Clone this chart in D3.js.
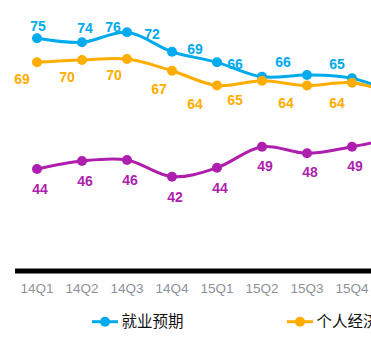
<!DOCTYPE html>
<html>
<head>
<meta charset="utf-8">
<script src="https://cdn.jsdelivr.net/npm/d3@7"></script>
<style>
  html, body { margin: 0; padding: 0; background: #fff; }
  svg { display: block; }
</style>
</head>
<body>
<svg id="chart" width="371" height="339"></svg>
<script>
// ---- data ----
const categories = ["14Q1", "14Q2", "14Q3", "14Q4", "15Q1", "15Q2", "15Q3", "15Q4", "16Q1"];
const visibleCount = 8; // the reference is cropped after 15Q4
const seriesNames = ["就业预期", "个人经济状况", "消费意愿"];
const jobValues = [74.67, 73.73, 76.09, 71.52, 69.02, 65.63, 66.03, 65.26, 61.5];
const financeValues = [69.02, 69.55, 69.80, 67.05, 63.55, 64.69, 63.55, 64.22, 61.3];
const spendingValues = [43.90, 45.78, 46.02, 42.09, 44.21, 49.15, 47.60, 49.15, 51.4];
const yDomain = [20, 80];

// label nudges (presentation only)
const jobLabelDx = [1, 3, -14, -20, -22, -27, -24, -15, 0];
const jobLabelDy = [-12, -14, -5, -18, -13, -13, -13, -14, 0];
const finLabelDx = [-15, -15, -13, -13, -22, -27, -21, -15, 0];
const finLabelDy = [17, 17, 16, 18.5, 18, 19, 17.5, 20.5, 0];
const spdLabelDx = [3, 3, 3, 3, 3, 3, 3, 3, 0];
const spdLabelDy = [20, 20, 20, 20, 20, 19, 19, 19, 0];

const colors = ["#00aaec", "#ffad00", "#ae1fae"];

const series = [
  { name: seriesNames[0], values: jobValues, color: colors[0], dx: jobLabelDx, dy: jobLabelDy },
  { name: seriesNames[1], values: financeValues, color: colors[1], dx: finLabelDx, dy: finLabelDy },
  { name: seriesNames[2], values: spendingValues, color: colors[2], dx: spdLabelDx, dy: spdLabelDy }
];

const svg = d3.select("#chart");

const x = d3.scaleBand()
  .domain(categories)
  .range([14.5, 14.5 + 45 * categories.length]);
const y = d3.scaleLinear().domain(yDomain).range([270.5, 15.7]);
const cx = c => x(c) + x.bandwidth() / 2;

// axis
const axis = d3.axisBottom(x)
  .tickValues(categories.slice(0, visibleCount))
  .tickSize(0).tickSizeOuter(0).tickPadding(12.5);
const gAxis = svg.append("g").attr("transform", "translate(0,270.5)").call(axis);
gAxis.select(".domain").attr("stroke", "#000").attr("stroke-width", 5);
gAxis.selectAll("text")
  .attr("fill", "#8d919a")
  .style("font-family", "'Liberation Sans', Arial, sans-serif")
  .style("font-size", "13.5px");

const line = d3.line()
  .x((d, i) => cx(categories[i]))
  .y(d => y(d))
  .curve(d3.curveCatmullRom.alpha(0.5));

series.forEach(s => {
  const g = svg.append("g");
  g.append("path")
    .attr("d", line(s.values))
    .attr("fill", "none")
    .attr("stroke", s.color)
    .attr("stroke-width", 3);
  g.selectAll("circle")
    .data(s.values)
    .join("circle")
    .attr("cx", (d, i) => cx(categories[i]))
    .attr("cy", d => y(d))
    .attr("r", 5)
    .attr("fill", s.color);
  g.selectAll("text")
    .data(s.values.slice(0, visibleCount))
    .join("text")
    .attr("x", (d, i) => cx(categories[i]) + s.dx[i])
    .attr("y", (d, i) => y(d) + s.dy[i])
    .attr("dy", "0.36em")
    .attr("text-anchor", "middle")
    .attr("fill", s.color)
    .style("font-family", "'Liberation Sans', Arial, sans-serif")
    .style("font-weight", "bold")
    .style("font-size", "14px")
    .text(d => Math.round(d));
});

// legend
const legend = svg.append("g").attr("transform", "translate(105,321.7)");
series.forEach((s, i) => {
  const g = legend.append("g").attr("transform", `translate(${i * 195},0)`);
  g.append("line").attr("x1", -13).attr("x2", 13).attr("y1", 0).attr("y2", 0)
    .attr("stroke", s.color).attr("stroke-width", 3);
  g.append("circle").attr("r", 5).attr("fill", s.color);
  g.append("text")
    .attr("x", 16.5)
    .attr("dy", "0.36em")
    .attr("fill", "#111")
    .style("font-family", "'Noto Sans CJK SC', sans-serif")
    .style("font-size", "15.5px")
    .text(s.name);
});
</script>
</body>
</html>
